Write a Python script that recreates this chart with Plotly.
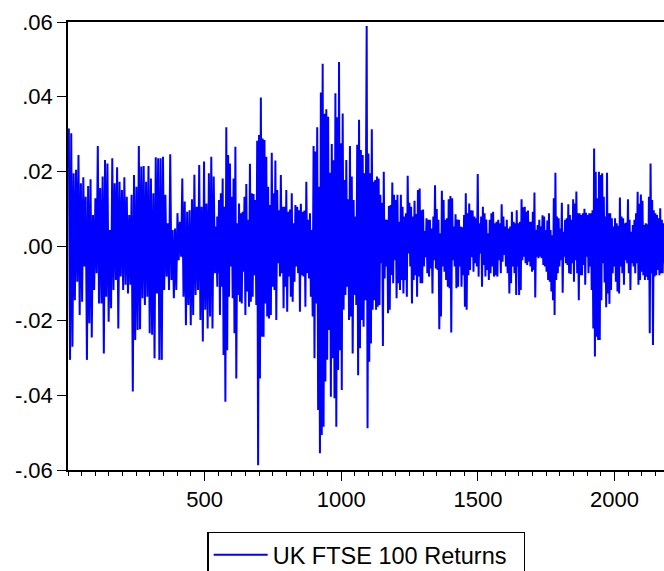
import numpy as np
import plotly.graph_objects as go

# Local upper / lower extremes of daily FTSE 100 returns,
# in four consecutive stretches of observations.
seg1_high = [0.0315, 0.0302, 0.0195, 0.0204, 0.0244, 0.0168, 0.0184, 0.0132, 0.0161, 0.0179,
             0.0083, 0.0128, 0.0268, 0.0155, 0.0186, 0.0230, 0.0221, 0.0043, 0.0235, 0.0168,
             0.0211, 0.0172, 0.0150, 0.0184, 0.0132, 0.0083, 0.0137, 0.0190, 0.0159, 0.0268,
             0.0213, 0.0214, 0.0172, 0.0214, 0.0181, 0.0141, 0.0238, 0.0235, 0.0235, 0.0239,
             0.0137, 0.0061, 0.0246, 0.0043, 0.0047, 0.0088, 0.0065, 0.0181, 0.0119, 0.0092,
             0.0096, 0.0125, 0.0191, 0.0105, 0.0217, 0.0105, 0.0226, 0.0114, 0.0195, 0.0239,
             0.0186, 0.0052]
seg1_low = [-0.0305, -0.0270, -0.0145, -0.0096, -0.0185, -0.0149, -0.0055, -0.0305, -0.0207, -0.0245,
            -0.0118, -0.0073, -0.0154, -0.0154, -0.0288, -0.0136, -0.0203, -0.0167, -0.0118, -0.0091,
            -0.0221, -0.0082, -0.0118, -0.0104, -0.0127, -0.0104, -0.0390, -0.0252, -0.0225, -0.0223,
            -0.0140, -0.0158, -0.0136, -0.0234, -0.0238, -0.0301, -0.0127, -0.0305, -0.0305, -0.0118,
            -0.0082, -0.0118, -0.0091, -0.0140, -0.0118, -0.0038, -0.0029, -0.0136, -0.0212, -0.0158,
            -0.0212, -0.0185, -0.0131, -0.0118, -0.0198, -0.0256, -0.0171, -0.0221, -0.0189, -0.0221,
            -0.0073, -0.0109]

seg2_high = [0.0079, 0.0123, 0.0141, 0.0181, 0.0105, 0.0318, 0.0244, 0.0221, 0.0132, 0.0181,
             0.0266, 0.0061, 0.0114, 0.0088, 0.0092, 0.0132, 0.0166, 0.0070, 0.0220, 0.0141,
             0.0139, 0.0123, 0.0282, 0.0297, 0.0398, 0.0288, 0.0284, 0.0239, 0.0159, 0.0110,
             0.0250, 0.0141, 0.0229, 0.0150, 0.0096, 0.0190, 0.0105, 0.0105, 0.0150, 0.0092,
             0.0098, 0.0141, 0.0061, 0.0110, 0.0105, 0.0096, 0.0113, 0.0092, 0.0095, 0.0172,
             0.0070, 0.0088, 0.0043, 0.0268, 0.0253, 0.0318, 0.0159, 0.0411, 0.0488, 0.0354,
             0.0366, 0.0346, 0.0196, 0.0273, 0.0230, 0.0409, 0.0345, 0.0493, 0.0275, 0.0355,
             0.0177, 0.0230, 0.0125, 0.0268, 0.0186, 0.0123, 0.0079, 0.0271, 0.0338, 0.0257,
             0.0244, 0.0195]
seg2_low = [-0.0073, -0.0185, -0.0109, -0.0292, -0.0417, -0.0279, -0.0136, -0.0055, -0.0140, -0.0234,
            -0.0355, -0.0131, -0.0149, -0.0154, -0.0069, -0.0185, -0.0122, -0.0163, -0.0149, -0.0136,
            -0.0078, -0.0158, -0.0587, -0.0355, -0.0243, -0.0243, -0.0154, -0.0189, -0.0194, -0.0185,
            -0.0109, -0.0118, -0.0198, -0.0046, -0.0082, -0.0073, -0.0167, -0.0109, -0.0176, -0.0082,
            -0.0136, -0.0149, -0.0096, -0.0055, -0.0073, -0.0176, -0.0078, -0.0082, -0.0163, -0.0073,
            -0.0087, -0.0136, -0.0189, -0.0301, -0.0154, -0.0439, -0.0555, -0.0506, -0.0484, -0.0363,
            -0.0305, -0.0225, -0.0404, -0.0301, -0.0408, -0.0484, -0.0332, -0.0279, -0.0386, -0.0171,
            -0.0131, -0.0109, -0.0198, -0.0189, -0.0288, -0.0131, -0.0158, -0.0346, -0.0274, -0.0198,
            -0.0216, -0.0145]

seg3_high = [0.0589, 0.0248, 0.0195, 0.0313, 0.0172, 0.0177, 0.0186, 0.0181, 0.0137, 0.0116,
             0.0199, 0.0071, 0.0070, 0.0107, 0.0110, 0.0170, 0.0137, 0.0123, 0.0137, 0.0065,
             0.0137, 0.0105, 0.0079, 0.0088, 0.0188, 0.0116, 0.0105, 0.0079, 0.0121, 0.0086,
             0.0150, 0.0154, 0.0096, 0.0098, 0.0040, 0.0074, 0.0070, 0.0070, 0.0047, 0.0079,
             0.0163, 0.0099, 0.0070, 0.0034, 0.0148, 0.0123, 0.0070, 0.0074, 0.0125, 0.0134,
             0.0128, 0.0052, 0.0085, 0.0071, 0.0070, 0.0052, 0.0050, 0.0083, 0.0141, 0.0088,
             0.0114, 0.0096, 0.0095, 0.0079, 0.0074, 0.0193, 0.0061, 0.0079, 0.0105, 0.0088,
             0.0071, 0.0034, 0.0070, 0.0088, 0.0092, 0.0061, 0.0065, 0.0070, 0.0061, 0.0112,
             0.0079, 0.0052, 0.0070, 0.0047, 0.0052, 0.0092, 0.0065, 0.0061]
seg3_low = [-0.0488, -0.0310, -0.0261, -0.0171, -0.0145, -0.0171, -0.0163, -0.0158, -0.0046, -0.0268,
            -0.0087, -0.0055, -0.0180, -0.0171, -0.0078, -0.0100, -0.0038, -0.0140, -0.0100, -0.0118,
            -0.0091, -0.0127, -0.0091, -0.0136, -0.0020, -0.0055, -0.0154, -0.0091, -0.0078, -0.0136,
            -0.0082, -0.0100, -0.0100, -0.0055, -0.0030, -0.0073, -0.0082, -0.0060, -0.0127, -0.0038,
            -0.0060, -0.0064, -0.0223, -0.0189, -0.0055, -0.0069, -0.0091, -0.0109, -0.0113, -0.0232,
            -0.0038, -0.0055, -0.0113, -0.0109, -0.0055, -0.0109, -0.0078, -0.0163, -0.0171, -0.0078,
            -0.0064, -0.0030, -0.0069, -0.0046, -0.0055, -0.0082, -0.0020, -0.0109, -0.0051, -0.0082,
            -0.0064, -0.0091, -0.0073, -0.0055, -0.0082, -0.0078, -0.0082, -0.0038, -0.0073, -0.0042,
            -0.0024, -0.0055, -0.0073, -0.0127, -0.0100, -0.0055, -0.0073, -0.0131]

seg4_high = [0.0096, 0.0061, 0.0065, 0.0125, 0.0104, 0.0105, 0.0092, 0.0095, 0.0065, 0.0065,
             0.0092, 0.0143, 0.0043, 0.0056, 0.0070, 0.0052, 0.0082, 0.0079, 0.0043, 0.0068,
             0.0088, 0.0043, 0.0029, 0.0128, 0.0196, 0.0079, 0.0074, 0.0047, 0.0116, 0.0038,
             0.0070, 0.0074, 0.0112, 0.0083, 0.0070, 0.0125, 0.0114, 0.0146, 0.0088, 0.0088,
             0.0083, 0.0088, 0.0100, 0.0089, 0.0083, 0.0088, 0.0088, 0.0096, 0.0261, 0.0199,
             0.0128, 0.0199, 0.0190, 0.0195, 0.0132, 0.0079, 0.0196, 0.0088, 0.0088, 0.0074,
             0.0052, 0.0074, 0.0061, 0.0054, 0.0130, 0.0079, 0.0074, 0.0061, 0.0063, 0.0125,
             0.0070, 0.0038, 0.0056, 0.0070, 0.0088, 0.0145, 0.0113, 0.0138, 0.0121, 0.0056,
             0.0061, 0.0058, 0.0132, 0.0221, 0.0123, 0.0096, 0.0088, 0.0083, 0.0074, 0.0101,
             0.0070, 0.0061]
seg4_low = [-0.0055, -0.0131, -0.0118, -0.0038, -0.0029, -0.0046, -0.0051, -0.0042, -0.0055, -0.0069,
            -0.0064, -0.0138, -0.0029, -0.0033, -0.0029, -0.0033, -0.0051, -0.0055, -0.0069, -0.0091,
            -0.0096, -0.0122, -0.0145, -0.0185, -0.0091, -0.0073, -0.0055, -0.0038, -0.0125, -0.0029,
            -0.0046, -0.0051, -0.0073, -0.0075, -0.0046, -0.0096, -0.0038, -0.0073, -0.0145, -0.0078,
            -0.0078, -0.0051, -0.0104, -0.0029, -0.0073, -0.0055, -0.0118, -0.0221, -0.0296, -0.0243,
            -0.0252, -0.0252, -0.0145, -0.0046, -0.0098, -0.0164, -0.0127, -0.0155, -0.0118, -0.0073,
            -0.0055, -0.0096, -0.0122, -0.0127, -0.0055, -0.0073, -0.0104, -0.0038, -0.0046, -0.0073,
            -0.0118, -0.0046, -0.0055, -0.0073, -0.0046, -0.0104, -0.0091, -0.0069, -0.0078, -0.0091,
            -0.0082, -0.0091, -0.0234, -0.0073, -0.0265, -0.0082, -0.0078, -0.0064, -0.0078, -0.0073,
            -0.0073, -0.0046]

# observation ranges covered by each stretch
seg_first_obs = [3, 546, 1093, 1642]
seg_last_obs = [542, 1085, 1637, 2179]

x_ticks = [500, 1000, 1500, 2000]
y_ticks = [0.06, 0.04, 0.02, 0.0, -0.02, -0.04, -0.06]
y_tick_labels = [".06", ".04", ".02", ".00", "-.02", "-.04", "-.06"]
series_name = "UK FTSE 100 Returns"

segments = [(seg1_high, seg1_low), (seg2_high, seg2_low),
            (seg3_high, seg3_low), (seg4_high, seg4_low)]

obs, ret = [], []
for (hi, lo), a, b in zip(segments, seg_first_obs, seg_last_obs):
    pos = np.linspace(a, b, len(hi))
    half = (b - a) / (len(hi) - 1) / 2.0
    for p, h, l in zip(pos, hi, lo):
        obs += [p, p + half]
        ret += [h, l]

FONT = "Liberation Sans, Arial, sans-serif"

fig = go.Figure()
fig.add_trace(go.Scatter(x=obs, y=ret, mode="lines", name=series_name,
                         line=dict(color="#0000FF", width=2.0), showlegend=True))

fig.update_layout(
    width=664, height=571,
    margin=dict(l=68, r=0, t=22, b=101, autoexpand=False),
    paper_bgcolor="white", plot_bgcolor="white",
    font=dict(family=FONT, size=22, color="black"),
    showlegend=True,
    legend=dict(orientation="h", x=0.5008, xanchor="center", y=-0.138, yanchor="top",
                bordercolor="black", borderwidth=1.2, bgcolor="white",
                itemwidth=54, entrywidth=246, entrywidthmode="pixels",
                font=dict(family=FONT, size=23.5, color="black")),
)
fig.update_xaxes(
    range=[0, 2181], showgrid=False, zeroline=False,
    showline=True, linecolor="black", linewidth=1.5, mirror=True,
    tickmode="array", tickvals=x_ticks, ticks="outside", ticklen=9,
    tickwidth=1.2, tickcolor="black",
    minor=dict(tickmode="linear", tick0=0, dtick=50, ticks="outside",
               ticklen=4.5, tickwidth=1.2, tickcolor="black", showgrid=False),
    tickfont=dict(family=FONT, size=22, color="black"),
)
fig.update_yaxes(
    range=[-0.06, 0.06], showgrid=False, zeroline=False,
    showline=True, linecolor="black", linewidth=1.5, mirror=False,
    tickmode="array", tickvals=y_ticks, ticktext=y_tick_labels,
    ticks="outside", ticklen=9, tickwidth=1.2, tickcolor="black",
    tickfont=dict(family=FONT, size=22, color="black"),
)

fig.write_html("out.html", config={"displayModeBar": False},
               post_script="document.body.style.margin='0px';document.body.style.overflow='hidden';")
